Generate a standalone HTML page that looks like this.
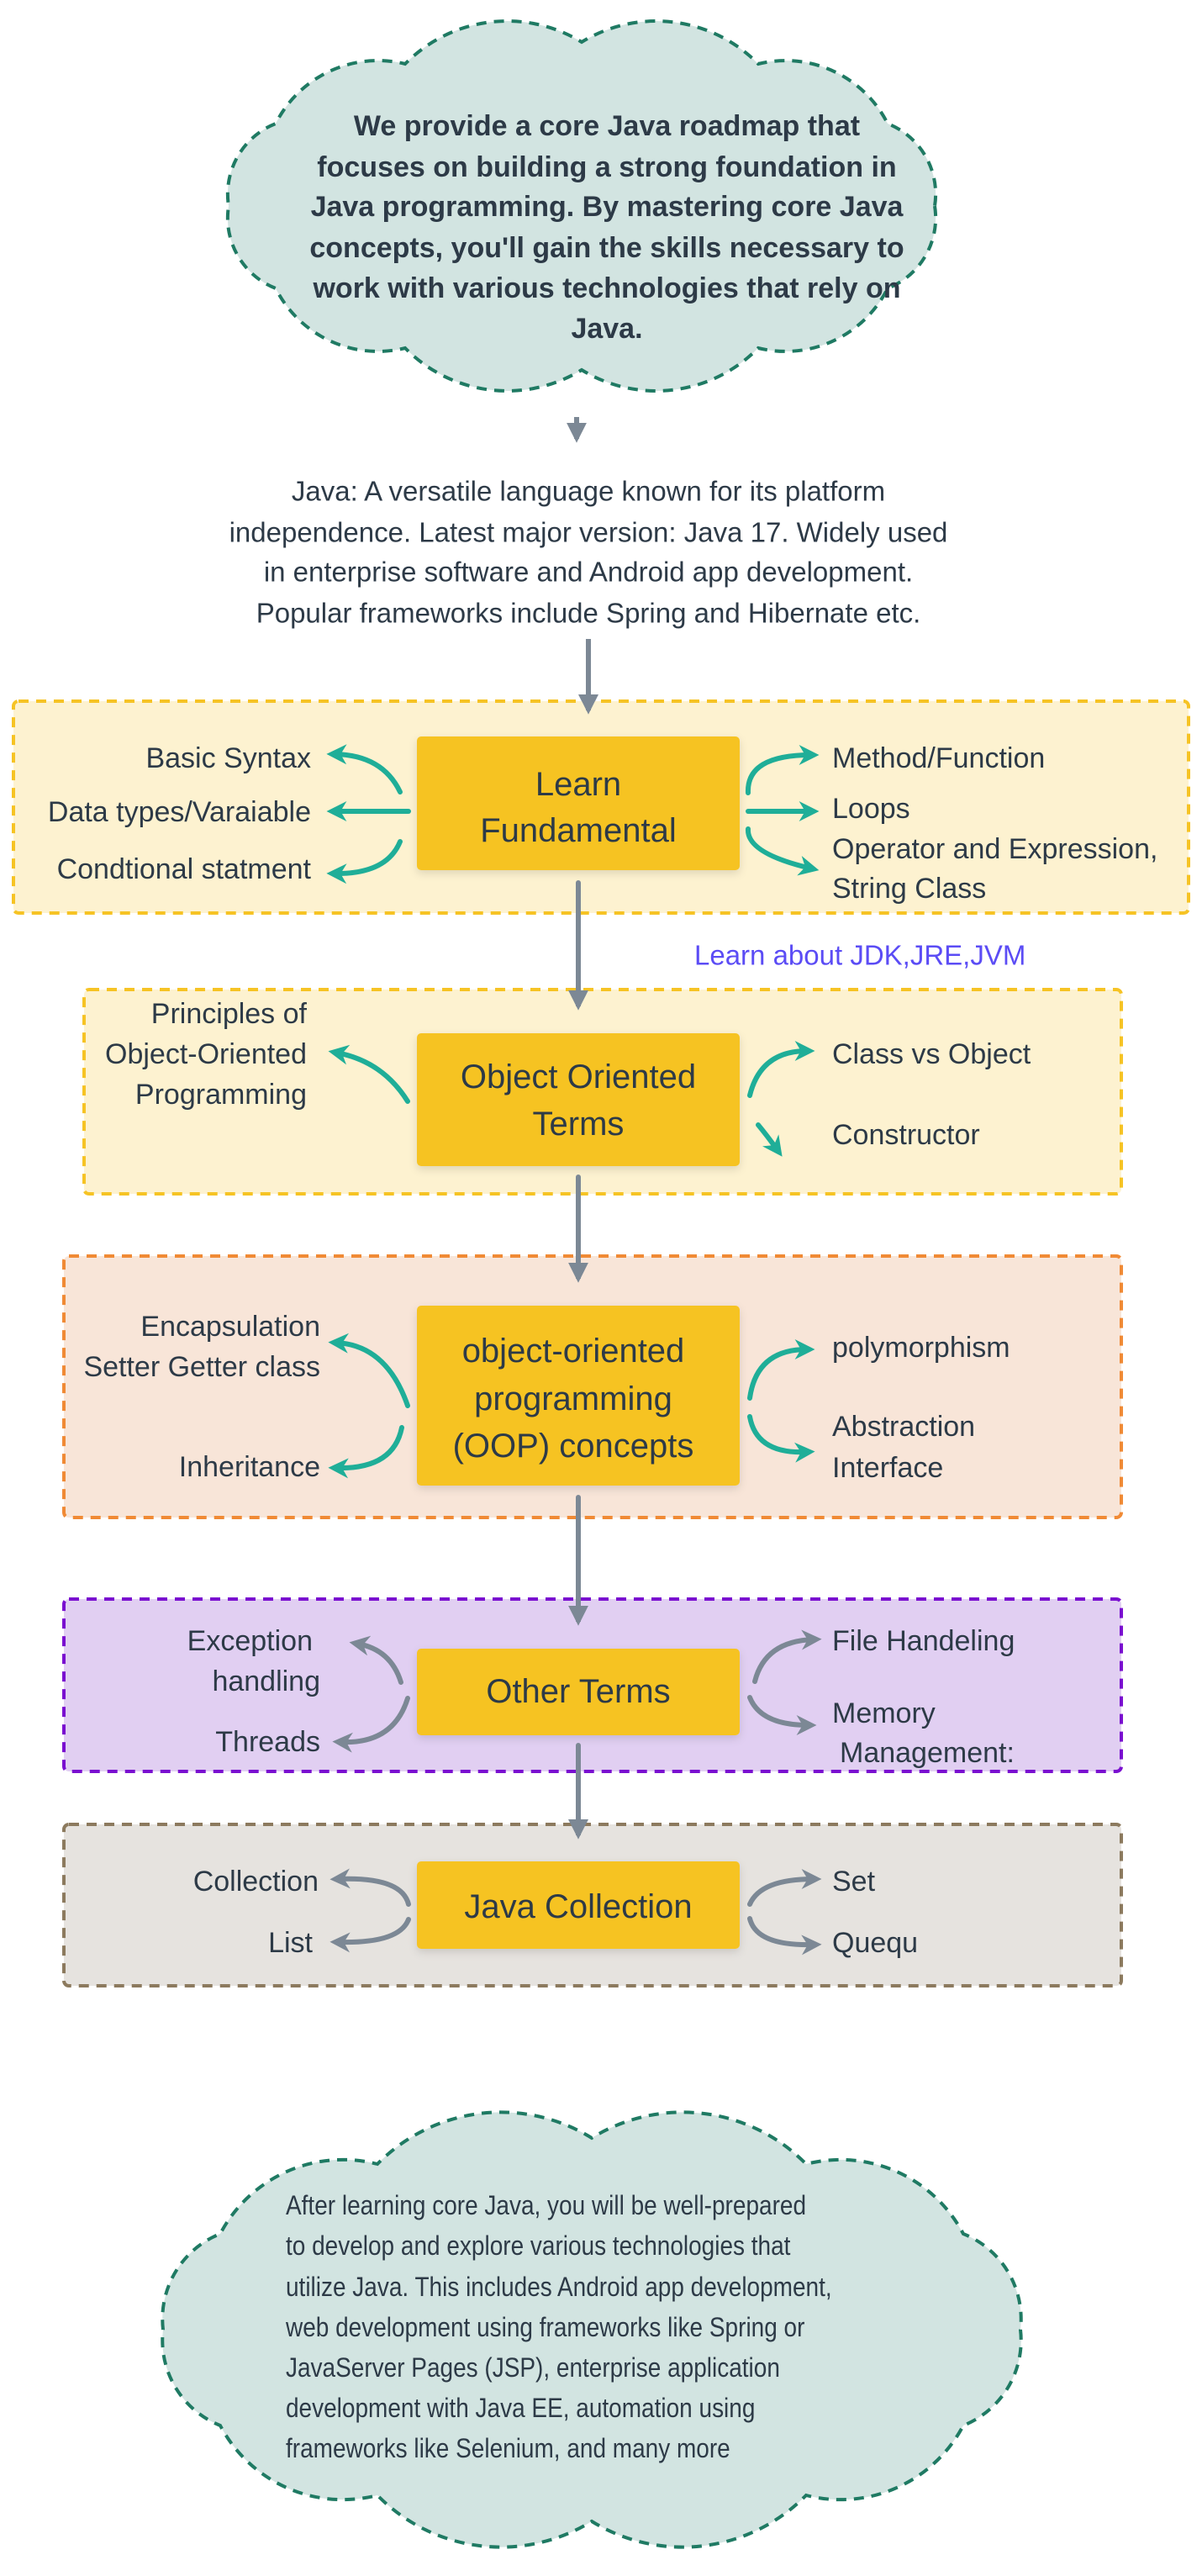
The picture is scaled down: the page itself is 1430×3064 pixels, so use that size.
<!DOCTYPE html>
<html><head><meta charset="utf-8"><style>
html,body{margin:0;padding:0;background:#fff;}
svg{display:block;}
text{font-family:"Liberation Sans",sans-serif;fill:#2d3a47;}
</style></head><body>
<svg width="1430" height="3064" viewBox="0 0 1430 3064" xmlns="http://www.w3.org/2000/svg">
<defs>
<marker id="mt" viewBox="0 0 10 10" refX="6" refY="5" markerWidth="4" markerHeight="4" orient="auto" markerUnits="strokeWidth">
<path d="M0,0 L10,5 L0,10 L3,5 Z" fill="#1fae98"/></marker>
<marker id="mg" viewBox="0 0 10 10" refX="6" refY="5" markerWidth="4" markerHeight="4" orient="auto" markerUnits="strokeWidth">
<path d="M0,0 L10,5 L0,10 L3,5 Z" fill="#7c8895"/></marker>
<marker id="mm" viewBox="0 0 10 10" refX="8" refY="5" markerWidth="4" markerHeight="4" orient="auto" markerUnits="strokeWidth">
<path d="M0,0 L10,5 L0,10 Z" fill="#7c8895"/></marker>
<filter id="sh" x="-10%" y="-10%" width="120%" height="130%"><feDropShadow dx="0" dy="4" stdDeviation="5" flood-color="#000" flood-opacity="0.12"/></filter>
</defs>

<!-- Cloud 1 -->
<path d="M1112,245 A90,90 0 0 1 1056,343 A136,136 0 0 1 902,414 A170,170 0 0 1 692,440 A170,170 0 0 1 482,414 A136,136 0 0 1 328,343 A90,90 0 0 1 272,245 A90,90 0 0 1 328,147 A136,136 0 0 1 482,76 A170,170 0 0 1 692,50 A170,170 0 0 1 902,76 A136,136 0 0 1 1056,147 A90,90 0 0 1 1112,245 Z" fill="#d2e4e1" stroke="#1f7a63" stroke-width="4" stroke-dasharray="12,9"/>
<g font-weight="bold" font-size="34" text-anchor="middle" dominant-baseline="central">
<text x="722" y="150">We provide a core Java roadmap that</text>
<text x="722" y="199">focuses on building a strong foundation in</text>
<text x="722" y="246">Java programming. By mastering core Java</text>
<text x="722" y="295">concepts, you'll gain the skills necessary to</text>
<text x="722" y="343">work with various technologies that rely on</text>
<text x="722" y="391">Java.</text>
</g>

<line x1="686" y1="496" x2="686" y2="522" stroke="#7c8895" stroke-width="6" marker-end="url(#mm)"/>
<g font-size="33" text-anchor="middle" dominant-baseline="central">
<text x="700" y="584">Java: A versatile language known for its platform</text>
<text x="700" y="633">independence. Latest major version: Java 17. Widely used</text>
<text x="700" y="680">in enterprise software and Android app development.</text>
<text x="700" y="729">Popular frameworks include Spring and Hibernate etc.</text>
</g>
<line x1="700" y1="760" x2="700" y2="845" stroke="#7c8895" stroke-width="6" marker-end="url(#mm)"/>

<!-- Box 1 -->
<rect x="16" y="834" width="1398" height="252" rx="6" fill="#fdf2d0" stroke="#f6c324" stroke-width="4" stroke-dasharray="12,9"/>
<line x1="700" y1="820" x2="700" y2="845" stroke="#7c8895" stroke-width="6" marker-end="url(#mm)"/>
<rect x="496" y="876" width="384" height="159" rx="5" fill="#f6c324" filter="url(#sh)"/>
<g font-size="40" text-anchor="middle" dominant-baseline="central">
<text x="688" y="933">Learn</text><text x="688" y="988">Fundamental</text></g>
<g fill="none" stroke="#1fae98" stroke-width="6" stroke-linecap="round">
<path d="M476,942 Q455,898 398,897" marker-end="url(#mt)"/>
<path d="M486,965 L398,965" marker-end="url(#mt)"/>
<path d="M476,1001 Q460,1040 398,1039" marker-end="url(#mt)"/>
<path d="M890,943 Q888,898 965,898" marker-end="url(#mt)"/>
<path d="M890,965 L965,965" marker-end="url(#mt)"/>
<path d="M890,986 Q888,1015 965,1033" marker-end="url(#mt)"/>
</g>
<g font-size="34" dominant-baseline="central">
<text x="370" y="902" text-anchor="end">Basic Syntax</text>
<text x="370" y="966" text-anchor="end">Data types/Varaiable</text>
<text x="370" y="1034" text-anchor="end">Condtional statment</text>
<text x="990" y="902">Method/Function</text>
<text x="990" y="962">Loops</text>
<text x="990" y="1010">Operator and Expression,</text>
<text x="990" y="1057">String Class</text>
</g>

<line x1="688" y1="1050" x2="688" y2="1197" stroke="#7c8895" stroke-width="6" stroke-linecap="round" marker-end="url(#mm)"/>
<text x="826" y="1136" font-size="33" fill="#5b4cf5" style="fill:#5b4cf5" dominant-baseline="central">Learn about JDK,JRE,JVM</text>

<!-- Box 2 -->
<rect x="100" y="1177" width="1234" height="243" rx="6" fill="#fdf2d0" stroke="#f6c324" stroke-width="4" stroke-dasharray="12,9"/>
<line x1="688" y1="1170" x2="688" y2="1197" stroke="#7c8895" stroke-width="6" marker-end="url(#mm)"/>
<rect x="496" y="1229" width="384" height="158" rx="5" fill="#f6c324" filter="url(#sh)"/>
<g font-size="40" text-anchor="middle" dominant-baseline="central">
<text x="688" y="1281">Object Oriented</text><text x="688" y="1337">Terms</text></g>
<g fill="none" stroke="#1fae98" stroke-width="6" stroke-linecap="round">
<path d="M485,1310 Q455,1262 400,1252" marker-end="url(#mt)"/>
<path d="M892,1303 Q905,1250 960,1250" marker-end="url(#mt)"/>
<path d="M902,1338 Q912,1350 925,1368" marker-end="url(#mt)"/>
</g>
<g font-size="34" dominant-baseline="central">
<text x="365" y="1206" text-anchor="end">Principles of</text>
<text x="365" y="1254" text-anchor="end">Object-Oriented</text>
<text x="365" y="1302" text-anchor="end">Programming</text>
<text x="990" y="1254">Class vs Object</text>
<text x="990" y="1350">Constructor</text>
</g>

<line x1="688" y1="1400" x2="688" y2="1521" stroke="#7c8895" stroke-width="6" stroke-linecap="round" marker-end="url(#mm)"/>

<!-- Box 3 -->
<rect x="76" y="1494" width="1258" height="311" rx="6" fill="#f8e5d8" stroke="#f08a35" stroke-width="4" stroke-dasharray="12,9"/>
<line x1="688" y1="1490" x2="688" y2="1521" stroke="#7c8895" stroke-width="6" marker-end="url(#mm)"/>
<rect x="496" y="1553" width="384" height="214" rx="5" fill="#f6c324" filter="url(#sh)"/>
<g font-size="40" text-anchor="middle" dominant-baseline="central">
<text x="682" y="1607">object-oriented</text><text x="682" y="1664">programming</text><text x="682" y="1720">(OOP) concepts</text></g>
<g fill="none" stroke="#1fae98" stroke-width="6" stroke-linecap="round">
<path d="M485,1672 Q460,1600 400,1597" marker-end="url(#mt)"/>
<path d="M478,1698 Q468,1748 400,1746" marker-end="url(#mt)"/>
<path d="M892,1663 Q900,1605 960,1605" marker-end="url(#mt)"/>
<path d="M892,1685 Q900,1730 960,1727" marker-end="url(#mt)"/>
</g>
<g font-size="34" dominant-baseline="central">
<text x="381" y="1578" text-anchor="end">Encapsulation</text>
<text x="381" y="1626" text-anchor="end">Setter Getter class</text>
<text x="381" y="1745" text-anchor="end">Inheritance</text>
<text x="990" y="1603">polymorphism</text>
<text x="990" y="1697">Abstraction</text>
<text x="990" y="1746">Interface</text>
</g>

<line x1="688" y1="1781" x2="688" y2="1929" stroke="#7c8895" stroke-width="6" stroke-linecap="round" marker-end="url(#mm)"/>

<!-- Box 4 -->
<rect x="76" y="1902" width="1258" height="205" rx="6" fill="#e1cff2" stroke="#7a0fd0" stroke-width="4" stroke-dasharray="12,9"/>
<line x1="688" y1="1895" x2="688" y2="1929" stroke="#7c8895" stroke-width="6" marker-end="url(#mm)"/>
<rect x="496" y="1961" width="384" height="103" rx="5" fill="#f6c324" filter="url(#sh)"/>
<text x="688" y="2012" font-size="40" text-anchor="middle" dominant-baseline="central">Other Terms</text>
<g fill="none" stroke="#7c8895" stroke-width="6" stroke-linecap="round">
<path d="M477,2001 Q465,1962 425,1955" marker-end="url(#mg)"/>
<path d="M485,2020 Q468,2075 405,2072" marker-end="url(#mg)"/>
<path d="M898,2000 Q910,1952 968,1950" marker-end="url(#mg)"/>
<path d="M892,2019 Q905,2052 962,2052" marker-end="url(#mg)"/>
</g>
<g font-size="34" dominant-baseline="central">
<text x="372" y="1952" text-anchor="end">Exception</text>
<text x="381" y="2000" text-anchor="end">handling</text>
<text x="381" y="2072" text-anchor="end">Threads</text>
<text x="990" y="1952">File Handeling</text>
<text x="990" y="2038">Memory</text>
<text x="999" y="2085">Management:</text>
</g>

<line x1="688" y1="2076" x2="688" y2="2183" stroke="#7c8895" stroke-width="6" stroke-linecap="round" marker-end="url(#mm)"/>

<!-- Box 5 -->
<rect x="76" y="2170" width="1258" height="192" rx="6" fill="#e6e3df" stroke="#8c7a5e" stroke-width="4" stroke-dasharray="12,9"/>
<line x1="688" y1="2165" x2="688" y2="2183" stroke="#7c8895" stroke-width="6" marker-end="url(#mm)"/>
<rect x="496" y="2214" width="384" height="104" rx="5" fill="#f6c324" filter="url(#sh)"/>
<text x="688" y="2268" font-size="40" text-anchor="middle" dominant-baseline="central">Java Collection</text>
<g fill="none" stroke="#7c8895" stroke-width="6" stroke-linecap="round">
<path d="M486,2265 Q478,2232 402,2235" marker-end="url(#mg)"/>
<path d="M486,2283 Q475,2312 402,2310" marker-end="url(#mg)"/>
<path d="M892,2265 Q905,2235 968,2235" marker-end="url(#mg)"/>
<path d="M892,2282 Q900,2315 968,2313" marker-end="url(#mg)"/>
</g>
<g font-size="34" dominant-baseline="central">
<text x="379" y="2238" text-anchor="end">Collection</text>
<text x="372" y="2311" text-anchor="end">List</text>
<text x="990" y="2238">Set</text>
<text x="990" y="2311">Quequ</text>
</g>

<!-- Cloud 2 -->
<path d="M1214,2771 A109,109 0 0 1 1146,2885 A165,165 0 0 1 959,2968 A206,206 0 0 1 704,2999 A206,206 0 0 1 449,2968 A165,165 0 0 1 262,2885 A109,109 0 0 1 194,2771 A109,109 0 0 1 262,2657 A165,165 0 0 1 449,2574 A206,206 0 0 1 704,2543 A206,206 0 0 1 959,2574 A165,165 0 0 1 1146,2657 A109,109 0 0 1 1214,2771 Z" fill="#d2e4e1" stroke="#1f7a63" stroke-width="4" stroke-dasharray="12,9"/>
<g font-size="32" dominant-baseline="central" transform="translate(340,0) scale(0.875,1) translate(-340,0)">
<text x="340" y="2624">After learning core Java, you will be well-prepared</text>
<text x="340" y="2672">to develop and explore various technologies that</text>
<text x="340" y="2721">utilize Java. This includes Android app development,</text>
<text x="340" y="2769">web development using frameworks like Spring or</text>
<text x="340" y="2817">JavaServer Pages (JSP), enterprise application</text>
<text x="340" y="2865">development with Java EE, automation using</text>
<text x="340" y="2913">frameworks like Selenium, and many more</text>
</g>
</svg>
</body></html>
